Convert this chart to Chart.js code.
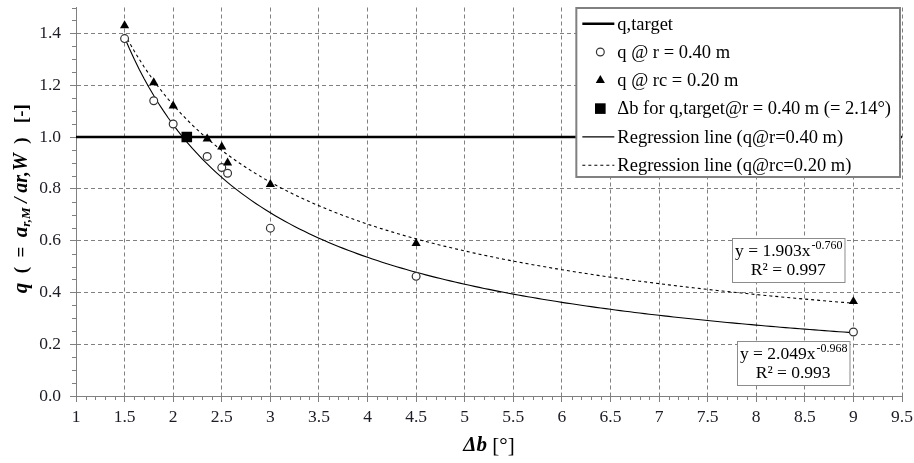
<!DOCTYPE html>
<html>
<head>
<meta charset="utf-8">
<script src="https://cdn.jsdelivr.net/npm/chart.js@4.4.1/dist/chart.umd.min.js"></script>
<style>
  body { margin: 0; background: #fff; }
  #wrap { width: 914px; height: 463px; position: relative; }
</style>
</head>
<body>
<div id="wrap"><canvas id="qChart"></canvas></div>
<script>
// measured q values per angle step
const deltaB = [1.5, 1.8, 2.0, 2.35, 2.5, 2.56, 3.0, 4.5, 9.0];
const qR040 = [1.38, 1.14, 1.05, 0.925, 0.882, 0.86, 0.648, 0.462, 0.247];
const qRc020 = [1.43, 1.21, 1.12, 0.993, 0.962, 0.90, 0.817, 0.589, 0.365];

// target q and the angle where the r = 0.40 m fit reaches it
const targetQ = 1.0;
const targetX = [1, 9.5];
const targetDeltaB = [2.14];

// power fits y = a * x^b  ->  [a, b]
const fitR040 = [2.049, -0.968];
const fitRc020 = [1.903, -0.760];
const fitR2 = [0.993, 0.997];
const fitRange = [1.5, 9];

const legendLabels = [
  'q,target',
  'q @ r = 0.40 m',
  'q @ rc = 0.20 m',
  '\u0394b for q,target@r = 0.40 m (= 2.14\u00b0)',
  'Regression line (q@r=0.40 m)',
  'Regression line (q@rc=0.20 m)'
];

const SERIF = '"Liberation Serif", "Times New Roman", serif';
const GRID = '#808080';

function powerCurve(coef) {
  const pts = [];
  for (let i = 0; ; i++) {
    const x = fitRange[0] + i * 0.05;
    if (x > fitRange[1] + 1e-9) break;
    pts.push({ x: x, y: coef[0] * Math.pow(x, coef[1]) });
  }
  return pts;
}

function toPoints(xs, ys) {
  return xs.map((x, i) => ({ x: x, y: ys[i] }));
}

// small unlabeled tick marks between the major ones
const minorTicks = {
  id: 'minorTicks',
  afterDraw(chart) {
    const { ctx, chartArea, scales } = chart;
    ctx.save();
    ctx.strokeStyle = GRID;
    ctx.lineWidth = 1;
    ctx.beginPath();
    for (let i = 10; i <= 95; i++) {
      if (i % 5 === 0) continue;
      const px = Math.round(scales.x.getPixelForValue(i / 10)) + 0.5;
      ctx.moveTo(px, chartArea.bottom);
      ctx.lineTo(px, chartArea.bottom + 4);
    }
    for (let i = 0; i <= 30; i++) {
      if (i % 4 === 0) continue;
      const py = Math.round(scales.y.getPixelForValue(i / 20)) + 0.5;
      ctx.moveTo(chartArea.left - 4, py);
      ctx.lineTo(chartArea.left, py);
    }
    ctx.stroke();
    ctx.restore();
  }
};

// axis titles with mixed fonts and subscripts
const yTitleParts = [
  ['q', 'bold italic 21px', 0],
  ['  (  =  ', 'bold 19px', 0],
  ['a', 'bold italic 21px', 0],
  ['r,M', 'bold italic 13px', 5],
  [' / ', 'bold italic 19px', 0],
  ['ar,W', 'bold italic 20px', 0],
  ['  )', 'bold 19px', 0],
  ['   [-]', 'bold 19px', 0]
];

const axisTitles = {
  id: 'axisTitles',
  afterDraw(chart) {
    const { ctx, chartArea } = chart;
    ctx.save();
    ctx.fillStyle = '#000';
    ctx.textBaseline = 'middle';
    ctx.textAlign = 'left';

    // y title, rotated
    let total = 0;
    yTitleParts.forEach(p => {
      ctx.font = p[1] + ' ' + SERIF;
      total += ctx.measureText(p[0]).width;
    });
    ctx.translate(22, (chartArea.top + chartArea.bottom) / 2 - 3);
    ctx.rotate(-Math.PI / 2);
    let x = -total / 2;
    yTitleParts.forEach(p => {
      ctx.font = p[1] + ' ' + SERIF;
      ctx.fillText(p[0], x, p[2]);
      x += ctx.measureText(p[0]).width;
    });
    ctx.setTransform(1, 0, 0, 1, 0, 0);

    // x title
    const cx = (chartArea.left + chartArea.right) / 2;
    ctx.font = 'bold italic 21px ' + SERIF;
    const w1 = ctx.measureText('\u0394b').width;
    ctx.font = '21px ' + SERIF;
    const w2 = ctx.measureText(' [\u00b0]').width;
    const x0 = cx - (w1 + w2) / 2;
    ctx.font = 'bold italic 21px ' + SERIF;
    ctx.fillText('\u0394b', x0, 446);
    ctx.font = '21px ' + SERIF;
    ctx.fillText(' [\u00b0]', x0 + w1, 446);
    ctx.restore();
  }
};

// regression equation boxes, anchored in data space
const fitBoxes = {
  id: 'fitBoxes',
  afterDatasetsDraw(chart) {
    const { ctx, scales } = chart;
    const boxes = [
      { coef: fitRc020, r2: fitR2[1], at: [8.33, 0.525] },
      { coef: fitR040, r2: fitR2[0], at: [8.38, 0.126] }
    ];
    ctx.save();
    boxes.forEach(b => {
      const base = 'y = ' + b.coef[0].toFixed(3) + 'x';
      const sup = b.coef[1].toFixed(3);
      const line2 = 'R\u00b2 = ' + b.r2.toFixed(3);
      ctx.font = '17.5px ' + SERIF;
      const wBase = ctx.measureText(base).width;
      const wLine2 = ctx.measureText(line2).width;
      ctx.font = '12px ' + SERIF;
      const wSup = ctx.measureText(sup).width;
      const w = Math.max(wBase + wSup, wLine2) + 6;
      const h = 44;
      const cx = scales.x.getPixelForValue(b.at[0]);
      const cy = scales.y.getPixelForValue(b.at[1]);
      const left = Math.round(cx - w / 2) + 0.5;
      const top = Math.round(cy - h / 2) + 0.5;
      ctx.fillStyle = '#fff';
      ctx.fillRect(left, top, w, h);
      ctx.strokeStyle = '#8c8c8c';
      ctx.lineWidth = 1;
      ctx.strokeRect(left, top, w, h);

      ctx.fillStyle = '#000';
      ctx.textBaseline = 'middle';
      ctx.textAlign = 'left';
      const lx = cx - (wBase + wSup) / 2;
      ctx.font = '17.5px ' + SERIF;
      ctx.fillText(base, lx, top + 13);
      ctx.font = '12px ' + SERIF;
      ctx.fillText(sup, lx + wBase + 1, top + 7);
      ctx.font = '17.5px ' + SERIF;
      ctx.textAlign = 'center';
      ctx.fillText(line2, cx, top + 32);
    });
    ctx.restore();
  }
};

// boxed legend sitting in the upper right of the plot
const boxLegend = {
  id: 'boxLegend',
  afterDraw(chart) {
    const { ctx, chartArea } = chart;
    const datasets = chart.data.datasets;
    ctx.save();
    ctx.font = '18.5px ' + SERIF;
    let maxW = 0;
    datasets.forEach(ds => { maxW = Math.max(maxW, ctx.measureText(ds.label).width); });
    const w = 43 + maxW + 7;
    const h = 169;
    const right = chartArea.right - 2;
    const left = right - w;
    const top = chartArea.top + 0.5;
    ctx.fillStyle = '#fff';
    ctx.fillRect(left, top, w, h);
    ctx.strokeStyle = '#808080';
    ctx.lineWidth = 2;
    ctx.strokeRect(left, top, w, h);

    datasets.forEach((ds, i) => {
      const y = top + 15.7 + i * 28.3;
      if (ds.showLine) {
        ctx.save();
        ctx.strokeStyle = ds.borderColor;
        ctx.lineWidth = ds.borderWidth;
        ctx.setLineDash(ds.borderDash || []);
        ctx.beginPath();
        ctx.moveTo(left + 6, y);
        ctx.lineTo(left + 38, y);
        ctx.stroke();
        ctx.restore();
      } else {
        ctx.save();
        ctx.fillStyle = ds.backgroundColor;
        ctx.strokeStyle = ds.borderColor;
        ctx.lineWidth = ds.borderWidth;
        Chart.helpers.drawPoint(ctx, {
          pointStyle: ds.pointStyle,
          radius: ds.pointRadius,
          borderWidth: ds.borderWidth,
          rotation: 0
        }, left + 24, y);
        ctx.restore();
      }
      ctx.fillStyle = '#000';
      ctx.textBaseline = 'middle';
      ctx.textAlign = 'left';
      ctx.fillText(ds.label, left + 41, y + 1);
    });
    ctx.restore();
  }
};

Chart.defaults.font.family = SERIF;
Chart.defaults.font.size = 17.5;
Chart.defaults.color = '#1c1c24';

new Chart(document.getElementById('qChart'), {
  type: 'scatter',
  data: {
    datasets: [
      {
        label: legendLabels[0],
        data: targetX.map(x => ({ x: x, y: targetQ })),
        showLine: true,
        borderColor: '#000',
        backgroundColor: '#000',
        borderWidth: 2.5,
        pointRadius: 0,
        order: 5
      },
      {
        label: legendLabels[1],
        data: toPoints(deltaB, qR040),
        showLine: false,
        pointStyle: 'circle',
        pointRadius: 3.9,
        borderWidth: 1.2,
        borderColor: '#333',
        backgroundColor: '#fff',
        order: 2
      },
      {
        label: legendLabels[2],
        data: toPoints(deltaB, qRc020),
        showLine: false,
        pointStyle: 'triangle',
        pointRadius: 5.3,
        borderWidth: 0,
        borderColor: '#000',
        backgroundColor: '#000',
        order: 1
      },
      {
        label: legendLabels[3],
        data: toPoints(targetDeltaB, [targetQ]),
        showLine: false,
        pointStyle: 'rect',
        pointRadius: 7.5,
        borderWidth: 0,
        borderColor: '#000',
        backgroundColor: '#000',
        order: 0
      },
      {
        label: legendLabels[4],
        data: powerCurve(fitR040),
        showLine: true,
        borderColor: '#000',
        backgroundColor: '#000',
        borderWidth: 1.1,
        pointRadius: 0,
        order: 4
      },
      {
        label: legendLabels[5],
        data: powerCurve(fitRc020),
        showLine: true,
        borderColor: '#000',
        backgroundColor: '#000',
        borderWidth: 1.1,
        borderDash: [3, 3],
        pointRadius: 0,
        order: 3
      }
    ]
  },
  options: {
    responsive: true,
    maintainAspectRatio: false,
    animation: false,
    events: [],
    layout: { padding: { top: 5, right: 12, left: 0, bottom: 0 } },
    plugins: {
      legend: { display: false },
      tooltip: { enabled: false }
    },
    scales: {
      x: {
        type: 'linear',
        min: 1,
        max: 9.5,
        ticks: {
          stepSize: 0.5,
          padding: 5,
          maxRotation: 0,
          autoSkip: false,
          callback: v => String(Math.round(v * 10) / 10)
        },
        grid: { color: GRID, tickColor: GRID, tickLength: 6, tickBorderDash: [] },
        border: { color: GRID, width: 1, dash: [4, 3] },
        afterFit(scale) {
          scale.height = 67;
          scale.paddingLeft = 0;
          scale.paddingRight = 0;
        }
      },
      y: {
        type: 'linear',
        min: 0,
        max: 1.5,
        ticks: {
          stepSize: 0.2,
          includeBounds: false,
          padding: 9,
          callback: v => v.toFixed(1)
        },
        grid: { color: GRID, tickColor: GRID, tickLength: 6, tickBorderDash: [] },
        border: { color: GRID, width: 1, dash: [4, 3] },
        afterFit(scale) {
          scale.width = 76;
          scale.paddingTop = 0;
          scale.paddingBottom = 0;
        }
      }
    }
  },
  plugins: [minorTicks, fitBoxes, axisTitles, boxLegend]
});
</script>
</body>
</html>
